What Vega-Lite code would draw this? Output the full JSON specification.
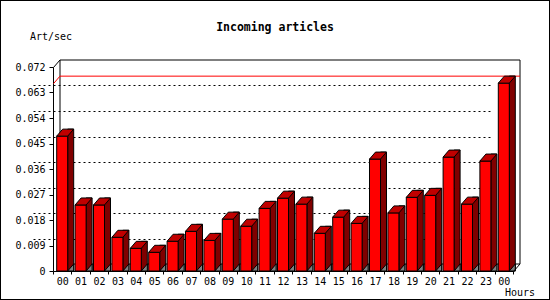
{
  "$schema": "https://vega.github.io/schema/vega-lite/v6.json",
  "width": 548,
  "height": 298,
  "autosize": {"type": "none"},
  "padding": 1,
  "background": "black",
  "config": {"view": {"fill": "white", "stroke": null}, "font": "DejaVu Sans Mono"},
  "title": {"text": "Incoming articles", "font": "DejaVu Sans Mono", "fontSize": 11.5, "fontWeight": "bold", "color": "black", "anchor": "middle", "baseline": "middle", "offset": -38, "frame": "group"},
  "data": {"values": [
    {"h": "00", "v": 0.0476}, {"h": "01", "v": 0.0233}, {"h": "02", "v": 0.0233}, {"h": "03", "v": 0.0119},
    {"h": "04", "v": 0.0080}, {"h": "05", "v": 0.0066}, {"h": "06", "v": 0.0105}, {"h": "07", "v": 0.0140},
    {"h": "08", "v": 0.0108}, {"h": "09", "v": 0.0183}, {"h": "10", "v": 0.0158}, {"h": "11", "v": 0.0221},
    {"h": "12", "v": 0.0257}, {"h": "13", "v": 0.0236}, {"h": "14", "v": 0.0133}, {"h": "15", "v": 0.0190},
    {"h": "16", "v": 0.0168}, {"h": "17", "v": 0.0395}, {"h": "18", "v": 0.0205}, {"h": "19", "v": 0.0260},
    {"h": "20", "v": 0.0267}, {"h": "21", "v": 0.0402}, {"h": "22", "v": 0.0236}, {"h": "23", "v": 0.0388},
    {"h": "24", "v": 0.0663}
  ]},
  "layer": [
    {
      "data": {"values": [{}]},
      "mark": {"type": "rect", "fillOpacity": 0, "stroke": "black", "strokeWidth": 1},
      "encoding": {
        "x": {"datum": "00", "bandPosition": 0, "type": "nominal", "axis": null,
              "scale": {"type": "band", "domain": ["00","01","02","03","04","05","06","07","08","09","10","11","12","13","14","15","16","17","18","19","20","21","22","23","24"], "range": [59, 519], "paddingInner": 0, "paddingOuter": 0}},
        "x2": {"datum": "24", "bandPosition": 1},
        "y": {"datum": 0, "type": "quantitative",
              "scale": {"type": "linear", "domain": [0, 0.072], "range": [263, 59], "nice": false, "zero": false},
              "axis": {"orient": "right", "grid": true, "gridColor": "black", "gridDash": [2, 3], "gridWidth": 1, "labels": false, "ticks": false, "domain": false, "title": null, "values": [0.009, 0.018, 0.027, 0.036, 0.045, 0.054, 0.063]}},
        "y2": {"datum": 0.072}
      }
    },
    {
      "mark": {"type": "rule", "color": "red", "strokeWidth": 1},
      "encoding": {
        "x": {"datum": "00", "bandPosition": 0, "type": "nominal", "axis": null},
        "x2": {"datum": "24", "bandPosition": 1},
        "y": {"aggregate": "max", "field": "v", "type": "quantitative", "axis": null}
      }
    },
    {
      "mark": {"type": "point", "shape": "M-15.7,7.5L-9.2,0", "size": 4, "filled": false, "stroke": "red", "strokeWidth": 1, "opacity": 1},
      "encoding": {
        "x": {"datum": "00", "type": "nominal", "axis": null},
        "y": {"aggregate": "max", "field": "v", "type": "quantitative", "axis": null}
      }
    },
    {
      "mark": {"type": "bar", "width": 6, "xOffset": 1.5, "y2Offset": 7, "color": "#800000", "stroke": "black", "strokeWidth": 1},
      "encoding": {
        "x": {"field": "h", "type": "nominal", "axis": null},
        "y": {"field": "v", "type": "quantitative", "axis": null},
        "y2": {"datum": 0}
      }
    },
    {
      "mark": {"type": "point", "shape": "M-1.5,7L4.5,0L4.5,7Z", "size": 4, "filled": true, "fill": "#808080", "stroke": "black", "strokeWidth": 1, "opacity": 1},
      "encoding": {
        "x": {"field": "h", "type": "nominal", "axis": null},
        "y": {"datum": 0, "type": "quantitative", "axis": null}
      }
    },
    {
      "mark": {"type": "bar", "width": 11, "xOffset": -7, "yOffset": 7, "y2Offset": 7, "color": "#ff0000", "stroke": "black", "strokeWidth": 1},
      "encoding": {
        "x": {"field": "h", "type": "nominal",
              "axis": {"orient": "bottom", "offset": -21, "translate": -6.5, "tickBand": "extent", "labelExpr": "datum.value == '24' ? '00' : datum.value", "labelFont": "DejaVu Sans Mono", "labelFontSize": 10, "labelColor": "black", "labelAngle": 0, "labelPadding": 2, "tickSize": 3, "tickColor": "black", "domainColor": "black", "grid": false,
                       "title": "Hours", "titleFont": "DejaVu Sans Mono", "titleFontSize": 10, "titleFontWeight": "normal", "titleColor": "black", "titleX": 510.5, "titleY": 21, "titleAlign": "left", "titleBaseline": "middle", "titleAngle": 0}},
        "y": {"field": "v", "type": "quantitative",
              "axis": {"orient": "left", "offset": -45, "translate": 7.5, "grid": false, "values": [0, 0.009, 0.018, 0.027, 0.036, 0.045, 0.054, 0.063, 0.072], "labelExpr": "datum.value == 0 ? '0' : format(datum.value, '.3f')", "labelFont": "DejaVu Sans Mono", "labelFontSize": 10, "labelColor": "black", "labelPadding": 4, "tickSize": 4, "tickColor": "black", "domainColor": "black",
                       "title": "Art/sec", "titleFont": "DejaVu Sans Mono", "titleFontSize": 10, "titleFontWeight": "normal", "titleColor": "black", "titleX": -23.5, "titleY": 28.2, "titleAlign": "left", "titleBaseline": "middle", "titleAngle": 0}},
        "y2": {"datum": 0}
      }
    },
    {
      "mark": {"type": "point", "shape": "M-12.5,7L-1.5,7L4.5,0L-6.5,0Z", "size": 4, "filled": true, "fill": "#c00000", "stroke": "black", "strokeWidth": 1, "opacity": 1},
      "encoding": {
        "x": {"field": "h", "type": "nominal", "axis": null},
        "y": {"field": "v", "type": "quantitative", "axis": null}
      }
    },
    {
      "data": {"values": [{}]},
      "mark": {"type": "point", "shape": "M-15.7,7.5L-9.2,0", "size": 4, "filled": false, "stroke": "black", "strokeWidth": 1, "opacity": 1},
      "encoding": {
        "x": {"datum": "00", "type": "nominal", "axis": null},
        "y": {"datum": 0.072, "type": "quantitative", "axis": null}
      }
    },
    {
      "data": {"values": [{}]},
      "mark": {"type": "point", "shape": "M2.7,7.5L9.2,0", "size": 4, "filled": false, "stroke": "black", "strokeWidth": 1, "opacity": 1},
      "encoding": {
        "x": {"datum": "24", "type": "nominal", "axis": null},
        "y": {"datum": 0, "type": "quantitative", "axis": null}
      }
    }
  ],
  "resolve": {"axis": {"x": "independent", "y": "independent"}}
}
